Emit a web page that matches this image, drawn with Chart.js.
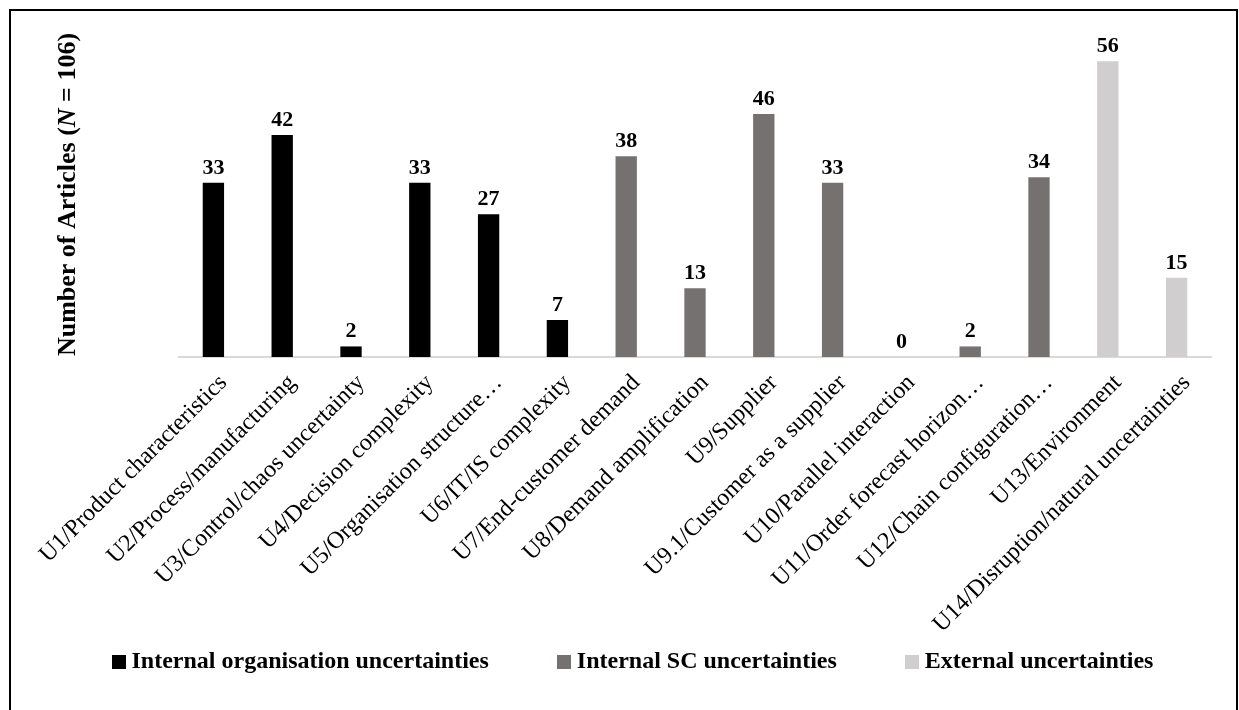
<!DOCTYPE html>
<html lang="en">
<head>
    <meta charset="UTF-8">
    <title>Number of Articles by Uncertainty Type</title>
    <script src="https://cdn.jsdelivr.net/npm/chart.js"></script>
    <style>
        html, body { margin: 0; padding: 0; background: #fff; overflow: hidden; }
        #frame {
            position: absolute; left: 9px; top: 9px; width: 1229px; height: 720px;
            box-sizing: border-box; border: 2px solid #000; pointer-events: none;
        }
        canvas { position: absolute; left: 0; top: 0; }
    </style>
</head>
<body>
    <canvas id="uncertaintyChart" width="1239" height="710"></canvas>
    <div id="frame"></div>

    <script>
        // Categories and article counts (N = 106)
        const categories = [
            'U1/Product characteristics',
            'U2/Process/manufacturing',
            'U3/Control/chaos uncertainty',
            'U4/Decision complexity',
            'U5/Organisation structure…',
            'U6/IT/IS complexity',
            'U7/End-customer demand',
            'U8/Demand amplification',
            'U9/Supplier',
            'U9.1/Customer as a supplier',
            'U10/Parallel interaction',
            'U11/Order forecast horizon…',
            'U12/Chain configuration…',
            'U13/Environment',
            'U14/Disruption/natural uncertainties'
        ];
        const internalOrganisation = [33, 42, 2, 33, 27, 7, null, null, null, null, null, null, null, null, null];
        const internalSC = [null, null, null, null, null, null, 38, 13, 46, 33, 0, 2, 34, null, null];
        const external = [null, null, null, null, null, null, null, null, null, null, null, null, null, 56, 15];

        const FONT = "'Liberation Serif', 'Times New Roman', serif";

        // square legend markers, drawn as small canvases
        function swatch(color) {
            const c = document.createElement('canvas');
            c.width = 14; c.height = 14;
            const g = c.getContext('2d');
            g.fillStyle = color;
            g.fillRect(0, 0, 14, 14);
            return c;
        }

        // value labels above each bar
        const valueLabels = {
            id: 'valueLabels',
            afterDatasetsDraw(chart) {
                const ctx = chart.ctx;
                ctx.save();
                ctx.font = 'bold 22px ' + FONT;
                ctx.fillStyle = '#000';
                ctx.textAlign = 'center';
                ctx.textBaseline = 'alphabetic';
                chart.data.datasets.forEach((ds, i) => {
                    const meta = chart.getDatasetMeta(i);
                    meta.data.forEach((bar, j) => {
                        const v = ds.data[j];
                        if (v === null) return;
                        ctx.fillText(String(v), bar.x, bar.y - 9);
                    });
                });
                ctx.restore();
            }
        };

        // y axis title with italic N
        const yTitle = {
            id: 'yTitle',
            afterDraw(chart) {
                const ctx = chart.ctx;
                const area = chart.chartArea;
                const parts = [
                    ['Number of Articles (', 'bold 26px ' + FONT],
                    ['N', 'italic bold 26px ' + FONT],
                    [' = 106)', 'bold 26px ' + FONT]
                ];
                let total = 0;
                parts.forEach(p => { ctx.font = p[1]; total += ctx.measureText(p[0]).width; });
                ctx.save();
                ctx.translate(68, (area.top + area.bottom) / 2 - 4);
                ctx.rotate(-Math.PI / 2);
                ctx.fillStyle = '#000';
                ctx.textBaseline = 'middle';
                ctx.textAlign = 'left';
                let x = -total / 2;
                parts.forEach(p => {
                    ctx.font = p[1];
                    ctx.fillText(p[0], x, 0);
                    x += ctx.measureText(p[0]).width;
                });
                ctx.restore();
            }
        };

        const ctx = document.getElementById('uncertaintyChart').getContext('2d');
        new Chart(ctx, {
            type: 'bar',
            data: {
                labels: categories,
                datasets: [
                    {
                        label: 'Internal organisation uncertainties',
                        data: internalOrganisation,
                        backgroundColor: '#000000',
                        pointStyle: swatch('#000000')
                    },
                    {
                        label: 'Internal SC uncertainties',
                        data: internalSC,
                        backgroundColor: '#767171',
                        pointStyle: swatch('#767171')
                    },
                    {
                        label: 'External uncertainties',
                        data: external,
                        backgroundColor: '#d0cece',
                        pointStyle: swatch('#d0cece')
                    }
                ]
            },
            options: {
                responsive: false,
                animation: false,
                skipNull: true,
                categoryPercentage: 1,
                barPercentage: 0.31,
                layout: { padding: { left: 43.5, right: 0, top: 40, bottom: 26 } },
                scales: {
                    x: {
                        grid: { display: false },
                        border: { color: '#d9d9d9', width: 2 },
                        ticks: {
                            color: '#000',
                            font: { family: FONT, size: 24 },
                            minRotation: 45,
                            maxRotation: 45,
                            autoSkip: false,
                            padding: 4,
                            labelOffset: 10
                        },
                        afterFit(scale) {
                            scale.height = 218;
                            scale.paddingLeft = 0;
                            scale.paddingRight = 0;
                            // long rotated labels run down past the axis box, keep them unclipped
                            scale._computeLabelArea = () => undefined;
                        }
                    },
                    y: {
                        min: 0,
                        max: 60,
                        grid: { display: false },
                        border: { display: false },
                        ticks: { display: false },
                        afterFit(scale) { scale.width = 135.5; }
                    },
                    yRight: {
                        type: 'linear',
                        position: 'right',
                        grid: { display: false },
                        border: { display: false },
                        ticks: { display: false },
                        afterFit(scale) { scale.width = 28; }
                    }
                },
                plugins: {
                    tooltip: { enabled: false },
                    legend: {
                        position: 'bottom',
                        align: 'start',
                        labels: {
                            usePointStyle: true,
                            boxWidth: 1,
                            padding: 75,
                            color: '#000',
                            font: { family: FONT, size: 24, weight: 'bold' }
                        }
                    }
                }
            },
            plugins: [valueLabels, yTitle]
        });
    </script>
</body>
</html>
